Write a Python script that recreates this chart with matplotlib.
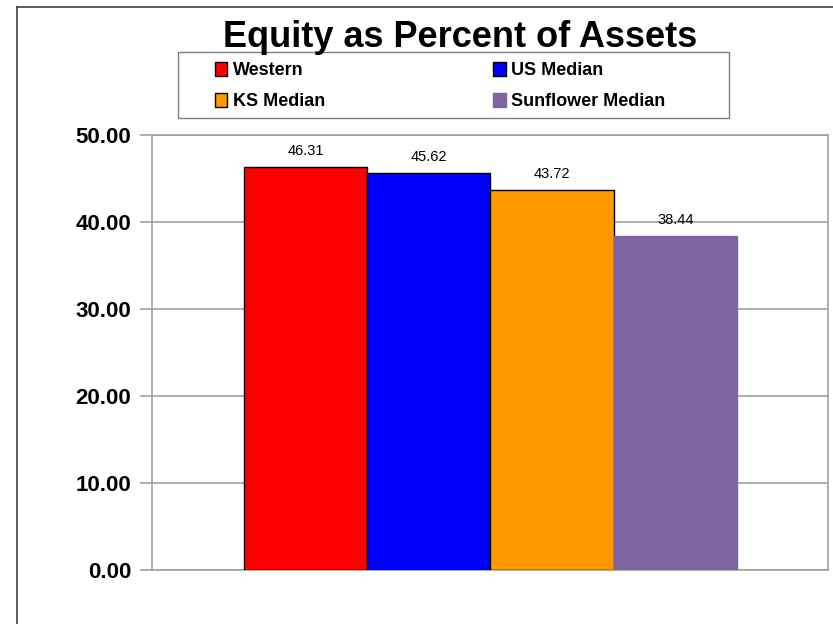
import matplotlib
matplotlib.use("Agg")
import matplotlib.pyplot as plt
from matplotlib.lines import Line2D
from matplotlib.patches import Rectangle

plt.rcParams['font.family'] = ['Liberation Sans', 'DejaVu Sans']

# data
series = ["Western", "US Median", "KS Median", "Sunflower Median"]
values = [46.31, 45.62, 43.72, 38.44]
colors = ["#ff0000", "#0000ff", "#ff9900", "#8064a2"]
edges = ["black", "black", "black", "#8064a2"]
yticks = [0, 10, 20, 30, 40, 50]

W, H = 833, 624
fig = plt.figure(figsize=(W / 100, H / 100), dpi=100)
ax = fig.add_axes((0.1825, 0.0865, 0.8115, 0.6972))

# bars
pos = list(range(len(series)))
ax.bar(pos, values, width=1.0, color=colors, edgecolor=edges, linewidth=1.0, zorder=3)
for p, v in zip(pos, values):
    ax.text(p, v + 1.0, "%.2f" % v, ha="center", va="bottom", fontsize=10.5, zorder=4)

ax.set_xlim(-1.246, 4.239)
ax.set_ylim(0, 50)
ax.set_yticks(yticks)
ax.set_yticklabels(["%.2f" % t for t in yticks], fontsize=16, fontweight="bold")
ax.set_xticks([])
ax.yaxis.grid(True, color="#a0a0a0", linewidth=1.2, zorder=0)
ax.tick_params(axis="y", length=9, width=1.2, color="#a0a0a0", pad=6)
for s in ax.spines.values():
    s.set_color("#a0a0a0")
    s.set_linewidth(1.2)

# title
fig.text(0.552, 0.94, "Equity as Percent of Assets", ha="center", va="center",
         fontsize=26, fontweight="bold")

# legend (matplotlib fills column-wise, so reorder to read row-wise)
order = [0, 2, 1, 3]
handles = [plt.Rectangle((0, 0), 1, 1, facecolor=colors[i], edgecolor=edges[i], linewidth=1.0)
           for i in order]
labels = [series[i] for i in order]
leg = fig.legend(handles, labels, ncol=2, loc="center",
                 bbox_to_anchor=(440 / W, 1 - 86 / H),
                 frameon=False, prop={"weight": "bold", "size": 13},
                 handlelength=0.7, handleheight=0.8, handletextpad=0.3,
                 columnspacing=9.3, labelspacing=0.75, borderpad=0)
# legend box drawn separately so it can be wider than the entries
fig.add_artist(Rectangle((178 / W, 1 - 118 / H), 551 / W, 66 / H, transform=fig.transFigure,
                         facecolor="none", edgecolor="#808080", linewidth=1.0))

# outer frame
fig.add_artist(Line2D([0.0204, 0.0204], [0.0, 0.989], color="#404040", linewidth=1.2))
fig.add_artist(Line2D([0.0204, 1.0], [0.989, 0.989], color="#404040", linewidth=1.2))

fig.savefig("out.png", dpi=100)
